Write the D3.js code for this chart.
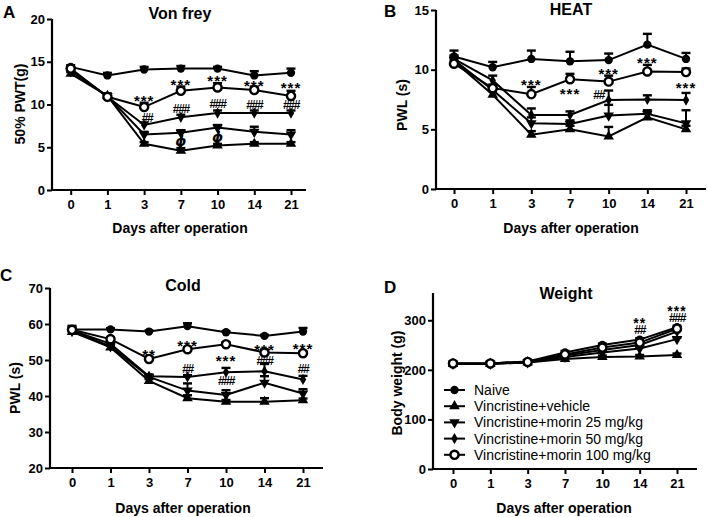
<!DOCTYPE html>
<html>
<head>
<meta charset="utf-8">
<script src="https://cdn.jsdelivr.net/npm/d3@7"></script>
<style>
html,body{margin:0;padding:0;background:#fff;}
svg{display:block;font-family:"Liberation Sans",Arial,sans-serif;}
</style>
</head>
<body>
<svg id="c" width="708" height="517"></svg>
<script>
// ---------- DATA ----------
const days = ["0","1","3","7","10","14","21"];
const groups = ["Naive","Vincristine+vehicle","Vincristine+morin 25 mg/kg","Vincristine+morin 50 mg/kg","Vincristine+morin 100 mg/kg"];

// A: Von frey, 50% PWT (g)
const vfNaive   = [14.4,13.4,14.1,14.2,14.2,13.4,13.7];
const vfVehicle = [13.6,11.0,5.4,4.6,5.2,5.4,5.4];
const vfM25     = [13.9,11.0,6.5,6.7,7.3,6.8,6.5];
const vfM50     = [14.1,10.9,7.6,8.5,9.0,9.0,9.0];
const vfM100    = [14.2,10.9,9.7,11.6,12.0,11.7,11.0];
const vfNaiveErr   = [0.2,0.3,0.3,0.3,0.2,0.5,0.5];
const vfVehicleErr = [0.2,0.2,0.2,0.3,0.2,0.2,0.2];
const vfM25Err     = [0.2,0.3,0.3,0.3,0.3,0.6,0.5];
const vfM50Err     = [0.2,0.3,0.3,0.3,0.3,0.3,0.3];
const vfM100Err    = [0.2,0.3,0.5,0.5,0.5,0.4,0.6];

// B: HEAT, PWL (s)
const htNaive   = [11.1,10.2,10.9,10.7,10.8,12.1,10.9];
const htVehicle = [10.7,7.9,4.55,5.0,4.4,6.0,5.0];
const htM25     = [10.8,8.3,5.5,5.45,6.15,6.3,5.5];
const htM50     = [10.9,9.1,6.2,6.2,7.45,7.5,7.45];
const htM100    = [10.5,8.45,7.95,9.2,9.0,9.85,9.8];
const htNaiveErr   = [0.5,0.45,0.7,0.8,0.55,0.9,0.5];
const htVehicleErr = [0.3,0.3,0.3,0.3,0.8,0.3,0.3];
const htM25Err     = [0.3,0.3,0.5,0.3,0.9,0.3,1.1];
const htM50Err     = [0.3,0.4,0.55,0.3,0.8,0.35,0.6];
const htM100Err    = [0.3,0.3,0.6,0.45,0.5,0.55,0.3];

// C: Cold, PWL (s)
const cdNaive   = [58.5,58.5,57.9,59.4,57.7,56.7,57.9];
const cdVehicle = [57.8,53.5,44.2,39.4,38.4,38.4,38.8];
const cdM25     = [58.0,53.8,45.3,41.5,40.3,43.7,40.7];
const cdM50     = [58.2,54.5,45.5,45.3,46.6,46.9,44.6];
const cdM100    = [58.4,55.8,50.3,53.0,54.4,52.1,51.9];
const cdNaiveErr   = [1.0,0.3,0.3,0.8,0.3,0.3,1.0];
const cdVehicleErr = [0.5,0.5,0.5,0.8,0.5,1.0,0.5];
const cdM25Err     = [0.5,0.5,0.5,2.0,1.3,1.8,1.2];
const cdM50Err     = [0.5,0.5,0.5,0.5,1.2,2.0,1.0];
const cdM100Err    = [0.8,0.5,0.5,0.5,0.5,0.8,0.5];

// D: Weight, body weight (g)
const wtNaive   = [213,213,217,235,250,261,286];
const wtVehicle = [212,212,215,222,226,227,230];
const wtM25     = [212,212,215,226,235,243,262];
const wtM50     = [213,213,216,229,240,250,277];
const wtM100    = [213,213,216,231,245,255,283];
const wtErr     = [3,3,3,3,3,3,3];

// significance annotations: [day, [[label, value-at-glyph-centre], ...], x offset]
const vfMarks = [["3",[["***",10.9]],0],["7",[["***",12.8]],0],["10",[["***",13.25]],0],["14",[["***",12.7]],0],["21",[["***",12.4]],0],
  ["3",[["##",8.45]],3],["7",[["###",9.55]],0],["10",[["###",10.1]],0],["14",[["###",10.0]],0],["21",[["###",10.0]],0],
  ["7",[["ϕ",5.75]],0],["10",[["ϕ",6.25]],0]];
const htMarks = [["3",[["***",9.1]],0],["7",[["***",8.35]],0],["10",[["***",10.0]],0],["14",[["***",10.9]],0],["21",[["***",8.8]],0],
  ["10",[["##",7.9]],-10]];
const cdMarks = [["3",[["**",52.5]],0],["7",[["***",55.1]],0],["10",[["***",50.9]],0],["14",[["***",53.9],["###",49.7]],0],["21",[["***",54.2]],0],
  ["7",[["##",47.7]],0],["10",[["###",44.3]],0],["21",[["##",47.7]],0]];
const wtMarks = [["14",[["**",301],["##",281]],0],["21",[["***",326],["###",306]],0]];

// ---------- DRAW ----------
const svg = d3.select("#c");
const shapes = ["circle","triUp","triDown","diamond","openCircle"];

function symbolPath(kind){
  if(kind==="circle") return d3.symbol(d3.symbolCircle,55)();
  if(kind==="openCircle") return d3.symbol(d3.symbolCircle,52)();
  if(kind==="triUp") return d3.symbol(d3.symbolTriangle,48)();
  if(kind==="triDown") return d3.symbol(d3.symbolTriangle,48)();
  if(kind==="diamond") return d3.symbol(d3.symbolDiamond,36)();
}
function drawMarker(g,kind,x,y){
  const p = g.append("path").attr("d",symbolPath(kind))
    .attr("transform",`translate(${x},${y})`+(kind==="triDown"?" rotate(180)":""));
  if(kind==="openCircle") p.attr("fill","#fff").attr("stroke","#000").attr("stroke-width",2.4);
  else p.attr("fill","#000");
}

function panel(cfg){
  const g = svg.append("g");
  const x = d3.scalePoint().domain(days).range(cfg.xr);
  const y = d3.scaleLinear().domain(cfg.yd).range([cfg.yb,cfg.yt]);

  g.append("line").attr("x1",cfg.ax).attr("x2",cfg.ax).attr("y1",cfg.yt).attr("y2",cfg.yb+1)
    .attr("stroke","#000").attr("stroke-width",2.2);
  g.append("line").attr("x1",cfg.ax-1).attr("x2",cfg.xe).attr("y1",cfg.yb).attr("y2",cfg.yb)
    .attr("stroke","#000").attr("stroke-width",2.2);

  const xa = g.append("g").attr("transform",`translate(0,${cfg.yb})`)
    .call(d3.axisBottom(x).tickSize(5).tickSizeOuter(0).tickPadding(5));
  xa.select(".domain").remove();
  xa.selectAll("line").attr("stroke-width",2);
  xa.selectAll("text").attr("font-size",13).attr("font-weight","bold").attr("fill","#000")
    .attr("font-family","Liberation Sans, Arial, sans-serif");

  const ya = g.append("g").attr("transform",`translate(${cfg.ax},0)`)
    .call(d3.axisLeft(y).tickValues(cfg.ticks).tickSize(5).tickPadding(2));
  ya.select(".domain").remove();
  ya.selectAll("line").attr("stroke-width",2);
  ya.selectAll("text").attr("font-size",13).attr("font-weight","bold").attr("fill","#000")
    .attr("font-family","Liberation Sans, Arial, sans-serif");

  g.append("text").attr("x",cfg.tx).attr("y",cfg.ty).attr("text-anchor","middle")
    .attr("font-size",16).attr("font-weight","bold").text(cfg.title);
  g.append("text").attr("x",cfg.tx2).attr("y",cfg.xty).attr("text-anchor","middle")
    .attr("font-size",14).attr("font-weight","bold").text("Days after operation");
  g.append("text").attr("transform",`translate(${cfg.ylx},${cfg.yly}) rotate(-90)`)
    .attr("text-anchor","middle").attr("font-size",14).attr("font-weight","bold").text(cfg.ylabel);
  g.append("text").attr("x",cfg.lx).attr("y",cfg.ly).attr("font-size",17).attr("font-weight","bold").text(cfg.letter);

  const line = d3.line().x((d,i)=>x(days[i])).y(d=>y(d));
  cfg.series.forEach(s=>{
    g.append("path").datum(s.v).attr("d",line).attr("fill","none")
      .attr("stroke","#000").attr("stroke-width",2);
  });
  cfg.series.forEach(s=>{
    s.v.forEach((v,i)=>{
      const cx = x(days[i]), cy = y(v), ey = y(v + s.e[i]);
      g.append("line").attr("x1",cx).attr("x2",cx).attr("y1",cy).attr("y2",ey)
        .attr("stroke","#000").attr("stroke-width",2);
      g.append("line").attr("x1",cx-4.5).attr("x2",cx+4.5).attr("y1",ey).attr("y2",ey)
        .attr("stroke","#000").attr("stroke-width",2.4);
    });
  });
  cfg.series.forEach((s,si)=>{
    s.v.forEach((v,i)=> drawMarker(g,shapes[si],x(days[i]),y(v)));
  });

  cfg.marks.forEach(m=>{
    const cx = x(m[0])+m[2];
    const t = g.append("text").attr("text-anchor","middle");
    m[1].forEach(part=>{
      const lbl = part[0];
      const isStar = lbl.indexOf("*")>=0;
      const isPhi = lbl==="ϕ";
      const fs = isStar ? (cfg.starSize||15) : (isPhi ? 14 : 12);
      const dy = isStar ? 0.62*fs : (isPhi ? 0.38*fs : 0.36*fs);
      const ts = t.append("tspan").attr("x",cx).attr("y",y(part[1])+dy).attr("font-size",fs).text(lbl);
      if(isStar) ts.attr("font-weight","bold").attr("letter-spacing",1);
      else if(isPhi) ts.attr("font-style","italic").attr("font-weight","bold").attr("font-family","DejaVu Sans, sans-serif");
      else ts.attr("font-weight","bold").attr("letter-spacing",-1.3);
    });
  });
  return g;
}

panel({letter:"A",lx:3,ly:18,title:"Von frey",tx:180,ty:19,tx2:180,xty:233,ylabel:"50% PWT(g)",ylx:25,yly:104,
  ax:52,xe:306,yt:19,yb:190,xr:[70.7,291],yd:[0,20],ticks:[0,5,10,15,20],
  series:[{v:vfNaive,e:vfNaiveErr},{v:vfVehicle,e:vfVehicleErr},{v:vfM25,e:vfM25Err},{v:vfM50,e:vfM50Err},{v:vfM100,e:vfM100Err}],
  marks:vfMarks});

panel({letter:"B",lx:384,ly:17,title:"HEAT",tx:571,ty:15,tx2:571,xty:233,ylabel:"PWL (s)",ylx:407,yly:105,
  ax:436,xe:706,yt:10,yb:189,xr:[454,686],yd:[0,15],ticks:[0,5,10,15],
  series:[{v:htNaive,e:htNaiveErr},{v:htVehicle,e:htVehicleErr},{v:htM25,e:htM25Err},{v:htM50,e:htM50Err},{v:htM100,e:htM100Err}],
  marks:htMarks});

panel({letter:"C",lx:0,ly:281,title:"Cold",tx:183,ty:291,tx2:183,xty:513,ylabel:"PWL (s)",ylx:20,yly:388,
  ax:50,xe:323,yt:288,yb:468,xr:[72,303],yd:[20,70],ticks:[20,30,40,50,60,70],
  series:[{v:cdNaive,e:cdNaiveErr},{v:cdVehicle,e:cdVehicleErr},{v:cdM25,e:cdM25Err},{v:cdM50,e:cdM50Err},{v:cdM100,e:cdM100Err}],
  marks:cdMarks});

panel({letter:"D",lx:384,ly:293,title:"Weight",tx:566,ty:299,tx2:564,xty:513,ylabel:"Body weight (g)",ylx:402,yly:383,
  ax:433,xe:697,yt:293,yb:469,xr:[453,677],yd:[0,355],ticks:[0,100,200,300],starSize:14,
  series:[{v:wtNaive,e:wtErr},{v:wtVehicle,e:wtErr},{v:wtM25,e:wtErr},{v:wtM50,e:wtErr},{v:wtM100,e:wtErr}],
  marks:wtMarks});

const leg = svg.append("g");
groups.forEach((name,i)=>{
  const ly = 390 + i*16.2;
  leg.append("line").attr("x1",444).attr("x2",465).attr("y1",ly).attr("y2",ly)
    .attr("stroke","#000").attr("stroke-width",2);
  drawMarker(leg,shapes[i],454.5,ly);
  leg.append("text").attr("x",474).attr("y",ly+5).attr("font-size",14).text(name);
});
</script>
</body>
</html>
